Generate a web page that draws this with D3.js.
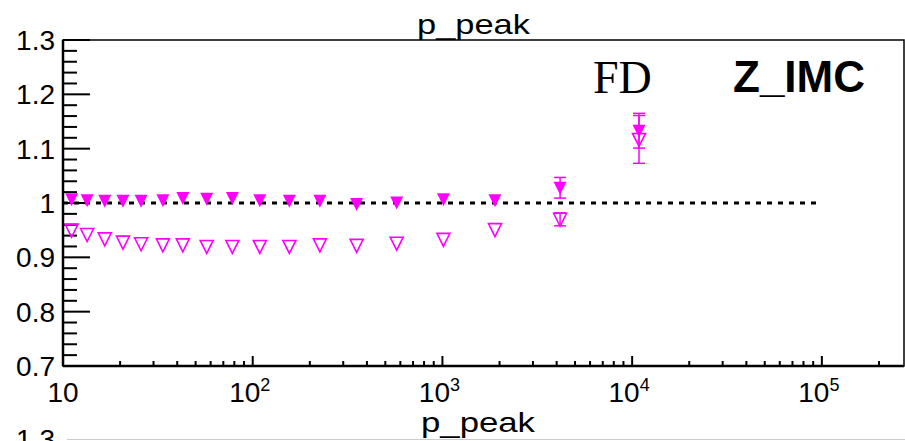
<!DOCTYPE html>
<html lang="en">
<head>
    <meta charset="UTF-8">
    <title>p_peak</title>
    <script src="https://d3js.org/d3.v7.min.js"></script>
    <style>
        body { margin: 0; background: #fff; }
        svg { font-family: "Liberation Sans", Arial, sans-serif; }
    </style>
</head>
<body>
    <div id="chart"></div>
    <script>
        // values
        const pPeak = [11.1, 13.4, 16.6, 20.7, 25.8, 33.6, 42.8, 57.2, 78.1, 109, 156, 226, 353, 574, 1012, 1892, 4170, 10870];
        const ratioFilled = [1.007, 1.005, 1.004, 1.004, 1.004, 1.005, 1.009, 1.008, 1.009, 1.005, 1.004, 1.004, 0.998, 1.001, 1.007, 1.005, 1.028, 1.133];
        const errFilled = [0, 0, 0, 0, 0, 0, 0, 0, 0, 0, 0, 0, 0, 0, 0, 0, 0.019, 0.032];
        const ratioOpen = [0.950, 0.942, 0.934, 0.928, 0.925, 0.923, 0.923, 0.920, 0.920, 0.920, 0.920, 0.923, 0.922, 0.926, 0.933, 0.951, 0.970, 1.117];
        const errOpen = [0, 0, 0, 0, 0, 0, 0, 0, 0, 0, 0, 0, 0, 0, 0, 0, 0.012, 0.044];
        const yTicks = [0.7, 0.8, 0.9, 1.0, 1.1, 1.2, 1.3];
        const xDecades = [10, 100, 1000, 10000, 100000];

        const W = 905, H = 441;
        const padL = 63, padR = 904, padT = 40, padB = 366;
        const magenta = "#ff00ff";

        const svg = d3.select("#chart").append("svg")
            .attr("width", W)
            .attr("height", H);

        const x = d3.scaleLog().domain([10, 2.71e5]).range([padL, padR]);
        const y = d3.scaleLinear().domain([0.7, 1.3]).range([padB, padT]);

        // frame
        svg.append("rect")
            .attr("x", padL).attr("y", padT)
            .attr("width", padR - padL).attr("height", padB - padT)
            .attr("fill", "none").attr("stroke", "#000").attr("stroke-width", 1.5);
        svg.append("line")
            .attr("x1", padL).attr("x2", padL).attr("y1", padT).attr("y2", padB)
            .attr("stroke", "#000").attr("stroke-width", 2.5);
        svg.append("line")
            .attr("x1", padL).attr("x2", padR).attr("y1", padB).attr("y2", padB)
            .attr("stroke", "#000").attr("stroke-width", 2.5);

        // y ticks: major every 0.1, minor every 0.02
        const yMinor = d3.range(0, 31).map(i => 0.7 + i * 0.02);
        svg.append("g").selectAll("line")
            .data(yMinor)
            .join("line")
            .attr("x1", padL)
            .attr("x2", (d, i) => padL + (i % 5 === 0 ? 27 : 14))
            .attr("y1", d => y(d)).attr("y2", d => y(d))
            .attr("stroke", "#000").attr("stroke-width", 2);

        svg.append("g").selectAll("text")
            .data(yTicks)
            .join("text")
            .attr("x", 55)
            .attr("y", d => y(d) + 10)
            .attr("text-anchor", "end")
            .attr("font-size", 28)
            .text(d => d === 1 ? "1" : d3.format(".1f")(d));

        // x ticks on log scale
        const xMinor = [];
        for (let dec = 10; dec <= 100000; dec *= 10) {
            for (let k = 1; k < 10; k++) {
                const v = dec * k;
                if (v <= 2.71e5) xMinor.push({ v: v, major: k === 1 });
            }
        }
        svg.append("g").selectAll("line")
            .data(xMinor)
            .join("line")
            .attr("x1", d => x(d.v)).attr("x2", d => x(d.v))
            .attr("y1", padB)
            .attr("y2", d => padB - (d.major ? 10 : 5))
            .attr("stroke", "#000").attr("stroke-width", 2);

        const xl = svg.append("g").selectAll("text")
            .data(xDecades)
            .join("text")
            .attr("x", d => x(d) + (d === 10 ? 0 : -3))
            .attr("y", 402)
            .attr("text-anchor", "middle")
            .attr("font-size", 28);
        xl.append("tspan").text("10");
        xl.filter(d => d !== 10).append("tspan")
            .attr("dy", -11)
            .attr("font-size", 18)
            .text(d => Math.round(Math.log10(d)));

        // reference line at 1
        svg.append("line")
            .attr("x1", x(10)).attr("x2", x(1e5))
            .attr("y1", y(1)).attr("y2", y(1))
            .attr("stroke", "#000").attr("stroke-width", 3)
            .attr("stroke-dasharray", "5,6");

        // error bars
        function drawErrors(vals, errs) {
            const pts = pPeak.map((p, i) => ({ p: p, v: vals[i], e: errs[i] })).filter(d => d.e > 0);
            const g = svg.append("g").attr("stroke", magenta).attr("stroke-width", 1.5);
            g.selectAll(".bar").data(pts).join("line")
                .attr("x1", d => x(d.p)).attr("x2", d => x(d.p))
                .attr("y1", d => y(d.v - d.e)).attr("y2", d => y(d.v + d.e));
            g.selectAll(".capLo").data(pts).join("line")
                .attr("x1", d => x(d.p) - 6).attr("x2", d => x(d.p) + 6)
                .attr("y1", d => y(d.v - d.e)).attr("y2", d => y(d.v - d.e));
            g.selectAll(".capHi").data(pts).join("line")
                .attr("x1", d => x(d.p) - 6).attr("x2", d => x(d.p) + 6)
                .attr("y1", d => y(d.v + d.e)).attr("y2", d => y(d.v + d.e));
        }
        drawErrors(ratioFilled, errFilled);
        drawErrors(ratioOpen, errOpen);

        const tri = "M-6.5,-6L6.5,-6L0,7Z";

        svg.append("g").selectAll("path")
            .data(pPeak)
            .join("path")
            .attr("d", tri)
            .attr("transform", (d, i) => `translate(${x(d)},${y(ratioOpen[i])})`)
            .attr("fill", "none")
            .attr("stroke", magenta)
            .attr("stroke-width", 1.6);

        svg.append("g").selectAll("path")
            .data(pPeak)
            .join("path")
            .attr("d", tri)
            .attr("transform", (d, i) => `translate(${x(d)},${y(ratioFilled[i])})`)
            .attr("fill", magenta);

        // titles and labels (stretched a little, as in the original)
        svg.append("text")
            .attr("x", 417).attr("y", 34)
            .attr("font-size", 28)
            .attr("textLength", 113)
            .attr("lengthAdjust", "spacingAndGlyphs")
            .text("p_peak");

        svg.append("text")
            .attr("x", 421).attr("y", 432)
            .attr("font-size", 28)
            .attr("textLength", 114)
            .attr("lengthAdjust", "spacingAndGlyphs")
            .text("p_peak");

        svg.append("text")
            .attr("x", 593).attr("y", 93)
            .style("font-family", "'Liberation Serif', 'Times New Roman', serif")
            .attr("font-size", 46)
            .text("FD");

        svg.append("text")
            .attr("x", 733).attr("y", 92)
            .attr("font-weight", "bold")
            .attr("font-size", 44)
            .text("Z_IMC");

        // top of the next pad, cut off by the window
        svg.append("line")
            .attr("x1", 67).attr("x2", W)
            .attr("y1", 439.5).attr("y2", 439.5)
            .attr("stroke", "#ccc").attr("stroke-width", 1);
        svg.append("text")
            .attr("x", 55).attr("y", 449)
            .attr("text-anchor", "end")
            .attr("font-size", 28)
            .text("1.3");
    </script>
</body>
</html>
